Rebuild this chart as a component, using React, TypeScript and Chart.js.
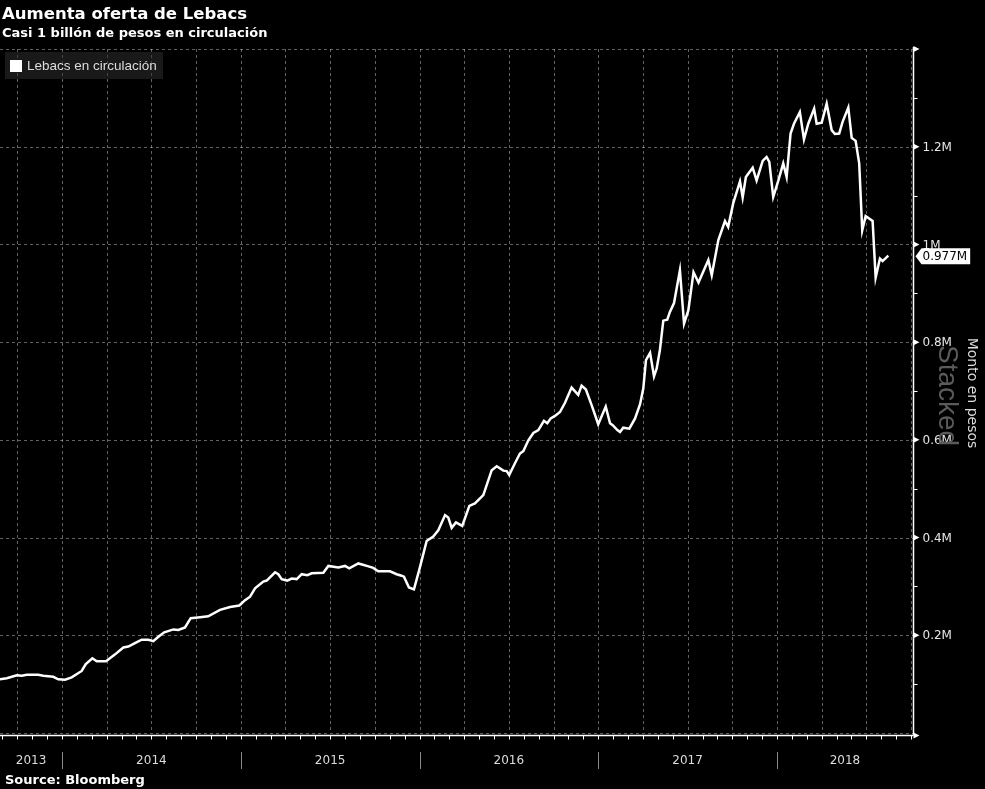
import React, { useEffect, useRef } from "react";
import { Chart, registerables } from "chart.js";

Chart.register(...registerables);

// Dates as fractional years, values in millions of millions of pesos ("M")
const dates: number[] = [
  2013.653, 2013.691, 2013.747, 2013.775, 2013.803, 2013.867, 2013.895, 2013.951, 2013.979, 2014.017,
  2014.054, 2014.110, 2014.133, 2014.170, 2014.194, 2014.246, 2014.297, 2014.343, 2014.371, 2014.408,
  2014.446, 2014.483, 2014.511, 2014.539, 2014.572, 2014.623, 2014.651, 2014.688, 2014.720, 2014.772,
  2014.818, 2014.884, 2014.940, 2014.992, 2015.024, 2015.052, 2015.080, 2015.126, 2015.145, 2015.192,
  2015.210, 2015.229, 2015.260, 2015.285, 2015.313, 2015.341, 2015.372, 2015.397, 2015.462, 2015.490,
  2015.546, 2015.583, 2015.607, 2015.658, 2015.705, 2015.741, 2015.769, 2015.835, 2015.872, 2015.900,
  2015.913, 2015.941, 2015.969, 2016.003, 2016.040, 2016.077, 2016.105, 2016.143, 2016.161, 2016.180,
  2016.204, 2016.239, 2016.279, 2016.310, 2016.357, 2016.404, 2016.432, 2016.469, 2016.488, 2016.502,
  2016.534, 2016.562, 2016.581, 2016.609, 2016.637, 2016.665, 2016.696, 2016.715, 2016.734, 2016.758,
  2016.786, 2016.814, 2016.851, 2016.888, 2016.907, 2016.931, 2016.963, 2017.000, 2017.042, 2017.066,
  2017.081, 2017.107, 2017.122, 2017.140, 2017.174, 2017.206, 2017.234, 2017.252, 2017.267, 2017.290,
  2017.312, 2017.327, 2017.345, 2017.364, 2017.386, 2017.401, 2017.424, 2017.457, 2017.480, 2017.504,
  2017.533, 2017.561, 2017.616, 2017.635, 2017.672, 2017.709, 2017.727, 2017.755, 2017.793, 2017.808,
  2017.826, 2017.864, 2017.886, 2017.920, 2017.942, 2017.957, 2017.979, 2018.007, 2018.035, 2018.054,
  2018.076, 2018.095, 2018.128, 2018.151, 2018.175, 2018.208, 2018.222, 2018.250, 2018.278, 2018.306,
  2018.324, 2018.348, 2018.367, 2018.399, 2018.418, 2018.440, 2018.460, 2018.477, 2018.496, 2018.535,
  2018.552, 2018.576, 2018.591, 2018.623,
];

const lebacs: number[] = [
  0.110, 0.112, 0.118, 0.117, 0.119, 0.119, 0.117, 0.115, 0.110, 0.109,
  0.114, 0.127, 0.141, 0.153, 0.147, 0.147, 0.161, 0.175, 0.177, 0.184,
  0.191, 0.191, 0.188, 0.197, 0.206, 0.212, 0.211, 0.216, 0.235, 0.237,
  0.239, 0.252, 0.258, 0.261, 0.272, 0.279, 0.296, 0.310, 0.312, 0.329,
  0.325, 0.315, 0.312, 0.316, 0.315, 0.325, 0.323, 0.327, 0.328, 0.342,
  0.339, 0.342, 0.337, 0.347, 0.342, 0.338, 0.331, 0.331, 0.325, 0.322,
  0.320, 0.298, 0.294, 0.340, 0.393, 0.402, 0.415, 0.446, 0.441, 0.420,
  0.431, 0.424, 0.465, 0.470, 0.487, 0.538, 0.546, 0.537, 0.536, 0.528,
  0.552, 0.572, 0.577, 0.599, 0.614, 0.620, 0.639, 0.634, 0.644, 0.649,
  0.657, 0.676, 0.707, 0.692, 0.711, 0.703, 0.671, 0.632, 0.668, 0.634,
  0.630, 0.620, 0.616, 0.625, 0.623, 0.644, 0.673, 0.705, 0.763, 0.778,
  0.730, 0.746, 0.784, 0.844, 0.846, 0.862, 0.880, 0.947, 0.838, 0.865,
  0.943, 0.922, 0.968, 0.937, 1.009, 1.048, 1.036, 1.084, 1.129, 1.096,
  1.138, 1.157, 1.131, 1.171, 1.179, 1.169, 1.097, 1.130, 1.166, 1.138,
  1.227, 1.247, 1.271, 1.215, 1.247, 1.278, 1.247, 1.249, 1.288, 1.234,
  1.226, 1.227, 1.251, 1.280, 1.218, 1.212, 1.166, 1.029, 1.058, 1.048,
  0.932, 0.971, 0.966, 0.977,
];

const xMin = 2013.653;
const xMax = 2018.761;
const yMin = 0;
const yMax = 1.4;

const yTickValues: number[] = [0.2, 0.4, 0.6, 0.8, 1, 1.2];
const yTickLabels: string[] = ["0.2M", "0.4M", "0.6M", "0.8M", "1M", "1.2M"];
const yGridValues: number[] = [0, 0.2, 0.4, 0.6, 0.8, 1, 1.2, 1.4];
const yMinorTicks: number[] = [0.1, 0.3, 0.5, 0.7, 0.9, 1.1, 1.3];
const years: number[] = [2013, 2014, 2015, 2016, 2017, 2018];
const yearLabels: string[] = ["2013", "2014", "2015", "2016", "2017", "2018"];

const TITLE = "Aumenta oferta de Lebacs";
const SUBTITLE = "Casi 1 billón de pesos en circulación";
const SERIES = "Lebacs en circulación";
const AXIS_TITLE = "Monto en pesos";
const SOURCE = "Source: Bloomberg";

const tickFont = "12px 'DejaVu Sans', sans-serif";

const drawPlugin = {
  id: "bbgDecor",
  beforeDatasetsDraw(chart: any) {
    const { ctx, chartArea, scales } = chart;
    const xs = scales.x;
    const ys = scales.y;
    ctx.save();
    ctx.strokeStyle = "rgba(255,255,255,0.38)";
    ctx.lineWidth = 1;
    ctx.setLineDash([3, 3]);
    yGridValues.forEach((v) => {
      const y = Math.round(ys.getPixelForValue(v)) + 0.5;
      ctx.beginPath();
      ctx.moveTo(chartArea.left, y);
      ctx.lineTo(chartArea.right, y);
      ctx.stroke();
    });
    for (let yr = Math.floor(xMin); yr <= Math.ceil(xMax); yr++) {
      for (let q = 0; q < 4; q++) {
        const v = yr + q / 4;
        if (v <= xMin || v >= xMax) continue;
        const x = Math.round(xs.getPixelForValue(v)) + 0.5;
        ctx.beginPath();
        ctx.moveTo(x, chartArea.top);
        ctx.lineTo(x, chartArea.bottom);
        ctx.stroke();
      }
    }
    ctx.restore();
  },
  afterDatasetsDraw(chart: any) {
    const { ctx, chartArea, scales } = chart;
    const xs = scales.x;
    const ys = scales.y;
    const axisX = chartArea.right + 0.5;
    const axisY = chartArea.bottom + 2.5;
    ctx.save();
    ctx.setLineDash([]);
    ctx.strokeStyle = "#ffffff";
    ctx.fillStyle = "#ffffff";
    ctx.lineWidth = 1.5;
    ctx.beginPath();
    ctx.moveTo(axisX, chartArea.top - 2);
    ctx.lineTo(axisX, axisY);
    ctx.stroke();
    ctx.beginPath();
    ctx.moveTo(chartArea.left, axisY);
    ctx.lineTo(axisX, axisY);
    ctx.stroke();

    ctx.lineWidth = 1;
    for (let yr = Math.floor(xMin); yr <= Math.ceil(xMax); yr++) {
      for (let m = 0; m < 12; m++) {
        const v = yr + m / 12;
        if (v < xMin || v > xMax) continue;
        const x = Math.round(xs.getPixelForValue(v)) + 0.5;
        ctx.beginPath();
        ctx.moveTo(x, axisY);
        ctx.lineTo(x, axisY + 4);
        ctx.stroke();
      }
    }

    ctx.font = tickFont;
    ctx.fillStyle = "#dcdcdc";
    ctx.textAlign = "center";
    ctx.textBaseline = "middle";
    years.forEach((yr, i) => {
      const start = Math.max(chartArea.left, xs.getPixelForValue(yr));
      const end = Math.min(chartArea.right, xs.getPixelForValue(yr + 1));
      if (yr > xMin && yr < xMax) {
        const x = Math.round(xs.getPixelForValue(yr)) + 0.5;
        ctx.strokeStyle = "#8a8a8a";
        ctx.beginPath();
        ctx.moveTo(x, 752);
        ctx.lineTo(x, 769);
        ctx.stroke();
      }
      ctx.fillText(yearLabels[i], (start + end) / 2, 761);
    });

    ctx.strokeStyle = "#ffffff";
    yMinorTicks.forEach((v) => {
      const y = Math.round(ys.getPixelForValue(v)) + 0.5;
      ctx.beginPath();
      ctx.moveTo(axisX, y);
      ctx.lineTo(axisX + 4, y);
      ctx.stroke();
    });
    const tri = (y: number) => {
      ctx.beginPath();
      ctx.moveTo(axisX, y - 3);
      ctx.lineTo(axisX + 6, y);
      ctx.lineTo(axisX, y + 3);
      ctx.closePath();
      ctx.fill();
    };
    ctx.fillStyle = "#ffffff";
    yGridValues.forEach((v) => {
      const y = v === 0 ? axisY : ys.getPixelForValue(v);
      tri(y);
    });
    ctx.font = tickFont;
    ctx.fillStyle = "#e6e6e6";
    ctx.textAlign = "left";
    ctx.textBaseline = "middle";
    yTickValues.forEach((v, i) => {
      ctx.fillText(yTickLabels[i], axisX + 9, ys.getPixelForValue(v) + 1);
    });

    const last = lebacs[lebacs.length - 1];
    const ly = ys.getPixelForValue(last) + 0.5;
    const label = last.toFixed(3) + "M";
    ctx.font = tickFont;
    const w = ctx.measureText(label).width;
    const bx = axisX + 8;
    ctx.fillStyle = "#ffffff";
    ctx.beginPath();
    ctx.moveTo(axisX + 2, ly);
    ctx.lineTo(bx, ly - 8);
    ctx.lineTo(bx + w + 4, ly - 8);
    ctx.lineTo(bx + w + 4, ly + 8);
    ctx.lineTo(bx, ly + 8);
    ctx.closePath();
    ctx.fill();
    ctx.fillStyle = "#000000";
    ctx.fillText(label, bx + 1, ly + 1);

    ctx.save();
    ctx.translate(939, 345);
    ctx.rotate(Math.PI / 2);
    ctx.font = "28px 'Liberation Sans', sans-serif";
    ctx.fillStyle = "#5a5a5a";
    ctx.textAlign = "left";
    ctx.textBaseline = "alphabetic";
    ctx.fillText("Stacked", 0, 0);
    ctx.restore();

    ctx.save();
    ctx.translate(972, 393);
    ctx.rotate(Math.PI / 2);
    ctx.font = "14px 'DejaVu Sans', sans-serif";
    ctx.fillStyle = "#dcdcdc";
    ctx.textAlign = "center";
    ctx.textBaseline = "middle";
    ctx.fillText(AXIS_TITLE, 0, 0);
    ctx.restore();

    ctx.restore();
  },
};

export default function App() {
  const canvasRef = useRef<HTMLCanvasElement | null>(null);

  useEffect(() => {
    document.body.style.margin = "0";
    document.body.style.background = "#000";
    const canvas = canvasRef.current;
    if (!canvas) return;
    const points = dates.map((d, i) => ({ x: d, y: lebacs[i] }));
    const chart = new Chart(canvas, {
      type: "line",
      data: {
        datasets: [
          {
            label: SERIES,
            data: points,
            borderColor: "#ffffff",
            borderWidth: 2.5,
            pointRadius: 0,
            tension: 0,
            fill: false,
          },
        ],
      },
      options: {
        animation: false,
        responsive: false,
        maintainAspectRatio: false,
        devicePixelRatio: 1,
        layout: { padding: { left: 0, right: 72, top: 49, bottom: 56 } },
        scales: {
          x: { type: "linear", min: xMin, max: xMax, display: false },
          y: { type: "linear", min: yMin, max: yMax, display: false },
        },
        plugins: {
          legend: { display: false },
          tooltip: { enabled: false },
          title: { display: false },
        },
      },
      plugins: [drawPlugin],
    });
    return () => chart.destroy();
  }, []);

  const bold = "'DejaVu Sans', sans-serif";
  return (
    <div
      style={{
        position: "absolute",
        left: 0,
        top: 0,
        width: 985,
        height: 789,
        background: "#000",
        overflow: "hidden",
      }}
    >
      <canvas
        ref={canvasRef}
        width={985}
        height={789}
        style={{ position: "absolute", left: 0, top: 0, width: 985, height: 789 }}
      />
      <div
        style={{
          position: "absolute",
          left: 2,
          top: 4,
          font: `bold 16.5px ${bold}`,
          color: "#fff",
          whiteSpace: "nowrap",
        }}
      >
        {TITLE}
      </div>
      <div
        style={{
          position: "absolute",
          left: 2,
          top: 25,
          font: `bold 13px ${bold}`,
          color: "#fff",
          whiteSpace: "nowrap",
        }}
      >
        {SUBTITLE}
      </div>
      <div
        style={{
          position: "absolute",
          left: 5,
          top: 52,
          width: 158,
          height: 27,
          background: "rgba(45,45,45,0.55)",
          display: "flex",
          alignItems: "center",
          boxSizing: "border-box",
          paddingLeft: 5,
        }}
      >
        <div style={{ width: 12, height: 12, background: "#fff", marginRight: 5 }} />
        <span
          style={{
            font: "13.5px 'Liberation Sans', sans-serif",
            color: "#dcdcdc",
            whiteSpace: "nowrap",
          }}
        >
          {SERIES}
        </span>
      </div>
      <div
        style={{
          position: "absolute",
          left: 5,
          top: 772,
          font: `bold 13px ${bold}`,
          color: "#fff",
          whiteSpace: "nowrap",
        }}
      >
        {SOURCE}
      </div>
    </div>
  );
}
